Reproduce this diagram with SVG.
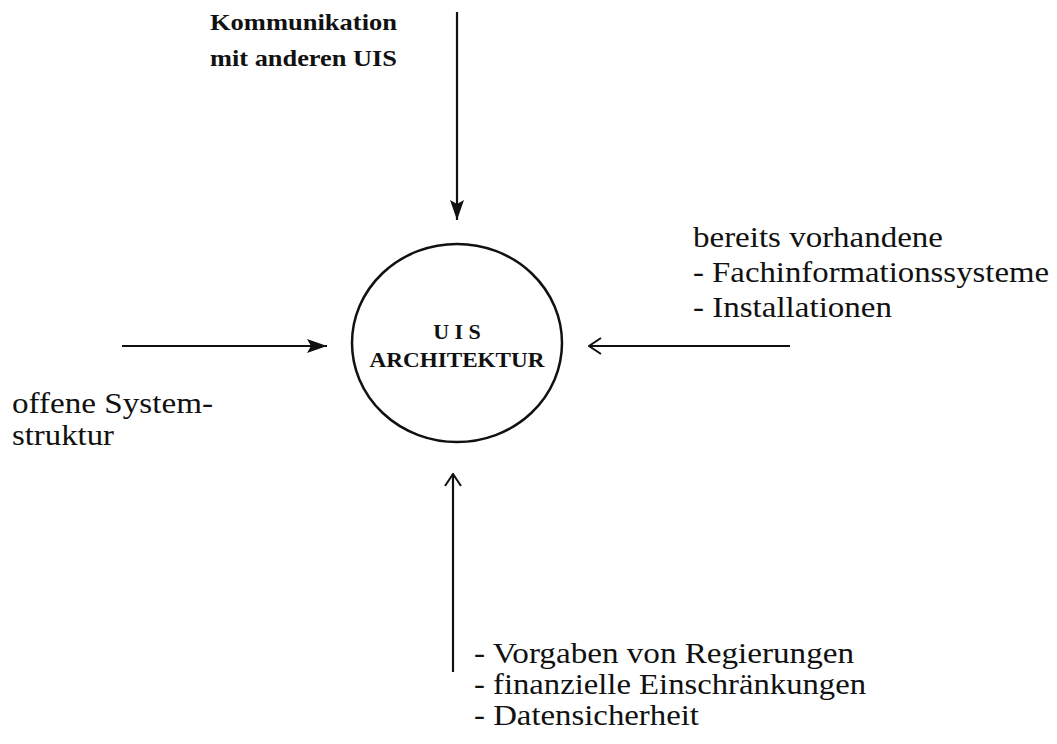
<svg xmlns="http://www.w3.org/2000/svg" width="1057" height="744" viewBox="0 0 1057 744">
  <style>
    .label { font-family: "Liberation Serif", "Times New Roman", serif; font-size: 30px; fill: #111; }
    .bold { font-family: "Liberation Serif", "Times New Roman", serif; font-weight: bold; fill: #111; }
    .conn { stroke: #111; stroke-width: 2.2; fill: none; }
  </style>
  <defs>
    <marker id="solid" viewBox="0 0 20 14" refX="20" refY="7" markerWidth="20" markerHeight="14" markerUnits="userSpaceOnUse" orient="auto">
      <path d="M0,0 L20,7 L0,14 L4,7 Z" fill="#111"/>
    </marker>
    <marker id="open" viewBox="0 0 14 18" refX="13" refY="9" markerWidth="14" markerHeight="18" markerUnits="userSpaceOnUse" orient="auto">
      <path d="M1,1 L13,9 L1,17" fill="none" stroke="#111" stroke-width="2"/>
    </marker>
  </defs>
  <rect width="1057" height="744" fill="#fff"/>

  <!-- connectors -->
  <g id="connectors">
    <line class="conn" x1="457" y1="12" x2="457" y2="220" marker-end="url(#solid)"/>
    <line class="conn" x1="122" y1="346" x2="327" y2="346" marker-end="url(#solid)"/>
    <line class="conn" x1="790" y1="346" x2="589" y2="346" marker-end="url(#open)"/>
    <line class="conn" x1="453" y1="672" x2="453" y2="474" marker-end="url(#open)"/>
  </g>

  <!-- central node -->
  <g id="uis-architektur">
    <ellipse cx="457" cy="343" rx="105" ry="99" fill="none" stroke="#111" stroke-width="2.5"/>
    <text class="bold" x="457" y="339" font-size="22" text-anchor="middle">U I S</text>
    <text class="bold" x="457" y="367" font-size="22" text-anchor="middle" textLength="175" lengthAdjust="spacingAndGlyphs">ARCHITEKTUR</text>
  </g>

  <g id="kommunikation">
    <text class="bold" x="210" y="30" font-size="24" textLength="187" lengthAdjust="spacingAndGlyphs">Kommunikation</text>
    <text class="bold" x="210" y="66" font-size="24" textLength="187" lengthAdjust="spacingAndGlyphs">mit anderen UIS</text>
  </g>

  <g id="offene-systemstruktur">
    <text class="label" x="12" y="413" textLength="201" lengthAdjust="spacingAndGlyphs">offene System-</text>
    <text class="label" x="12" y="445" textLength="102" lengthAdjust="spacingAndGlyphs">struktur</text>
  </g>

  <g id="vorhandene-systeme">
    <text class="label" x="693" y="247" textLength="250" lengthAdjust="spacingAndGlyphs">bereits vorhandene</text>
    <text class="label" x="693" y="282" textLength="356" lengthAdjust="spacingAndGlyphs">- Fachinformationssysteme</text>
    <text class="label" x="693" y="317" textLength="199" lengthAdjust="spacingAndGlyphs">- Installationen</text>
  </g>

  <g id="vorgaben">
    <text class="label" x="474" y="663" textLength="380" lengthAdjust="spacingAndGlyphs">- Vorgaben von Regierungen</text>
    <text class="label" x="474" y="694" textLength="392" lengthAdjust="spacingAndGlyphs">- finanzielle Einschränkungen</text>
    <text class="label" x="474" y="725" textLength="225" lengthAdjust="spacingAndGlyphs">- Datensicherheit</text>
  </g>
</svg>
